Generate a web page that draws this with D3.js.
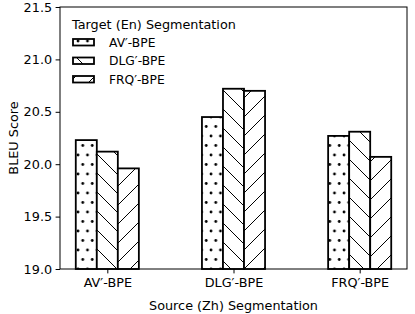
<!DOCTYPE html>
<html>
<head>
	<meta charset="utf-8" />
	<script src="https://cdnjs.cloudflare.com/ajax/libs/d3/7.8.5/d3.min.js"></script>
	<style>
		body { margin: 0; background: white; }
		text { font-family: 'DejaVu Sans', sans-serif; fill: black; }
		.tick text { font-size: 12.8px; }
	</style>
</head>
<body>
	<script>
		// data
		const categories = ["AV\u2032-BPE", "DLG\u2032-BPE", "FRQ\u2032-BPE"];
		const seriesNames = ["AV\u2032-BPE", "DLG\u2032-BPE", "FRQ\u2032-BPE"];
		const avScores = [20.23, 20.45, 20.27];
		const dlgScores = [20.12, 20.72, 20.31];
		const frqScores = [19.96, 20.70, 20.07];
		const yTicks = [19.0, 19.5, 20.0, 20.5, 21.0, 21.5];

		const w = 415, h = 314;
		const margin = {left: 60, right: 8, top: 7, bottom: 45};
		const barW = 1 / 6;

		const svg = d3.select("body").append("svg")
			.attr("width", w)
			.attr("height", h);

		// hatch patterns (matplotlib style '.', '\\', '/')
		const defs = svg.append("defs");
		const dots = defs.append("pattern")
			.attr("id", "hatch-dot")
			.attr("patternUnits", "userSpaceOnUse")
			.attr("width", 9.5).attr("height", 19);
		dots.append("rect").attr("width", 9.5).attr("height", 19).attr("fill", "white");
		dots.append("circle").attr("cx", 2).attr("cy", 3).attr("r", 1.4).attr("fill", "black");
		dots.append("circle").attr("cx", 6.75).attr("cy", 12.5).attr("r", 1.4).attr("fill", "black");

		const back = defs.append("pattern")
			.attr("id", "hatch-back")
			.attr("patternUnits", "userSpaceOnUse")
			.attr("width", 19).attr("height", 19);
		back.append("rect").attr("width", 19).attr("height", 19).attr("fill", "white");
		back.append("path")
			.attr("d", "M0,0L19,19M-2,17L2,21M17,-2L21,2")
			.attr("stroke", "black").attr("stroke-width", 1);

		const fwd = defs.append("pattern")
			.attr("id", "hatch-fwd")
			.attr("patternUnits", "userSpaceOnUse")
			.attr("width", 19).attr("height", 19);
		fwd.append("rect").attr("width", 19).attr("height", 19).attr("fill", "white");
		fwd.append("path")
			.attr("d", "M0,19L19,0M-2,2L2,-2M17,21L21,17")
			.attr("stroke", "black").attr("stroke-width", 1);

		const fills = ["url(#hatch-dot)", "url(#hatch-back)", "url(#hatch-fwd)"];
		const allSeries = [avScores, dlgScores, frqScores];

		const xScale = d3.scaleLinear()
			.domain([-0.375, 2.375])
			.range([margin.left, w - margin.right]);

		const yScale = d3.scaleLinear()
			.domain([19.0, 21.5])
			.range([h - margin.bottom, margin.top]);

		// bars
		allSeries.forEach((vals, si) => {
			svg.append("g")
				.selectAll("rect")
				.data(vals)
				.enter()
				.append("rect")
				.attr("x", (d, i) => xScale(i + (si - 1) * barW - barW / 2))
				.attr("width", (d, i) => xScale(barW) - xScale(0))
				.attr("y", d => yScale(d))
				.attr("height", d => yScale(19.0) - yScale(d))
				.attr("fill", fills[si])
				.attr("stroke", "black")
				.attr("stroke-width", 1.8);
		});

		// axes
		const xAxis = d3.axisBottom(xScale)
			.tickValues([0, 1, 2])
			.tickFormat(i => categories[i])
			.tickSizeInner(4.4).tickSizeOuter(0).tickPadding(4.4);
		const yAxis = d3.axisLeft(yScale)
			.tickValues(yTicks)
			.tickFormat(d3.format(".1f"))
			.tickSizeInner(4.4).tickSizeOuter(0).tickPadding(3.5);

		svg.append("g")
			.attr("transform", "translate(0," + (h - margin.bottom) + ")")
			.call(xAxis)
			.call(g => g.select(".domain").remove());
		svg.append("g")
			.attr("transform", "translate(" + margin.left + ",0)")
			.call(yAxis)
			.call(g => g.select(".domain").remove());

		svg.selectAll(".tick line").attr("stroke", "black").attr("stroke-width", 1);
		svg.selectAll(".tick text").attr("fill", "black").attr("font-family", "DejaVu Sans");

		// frame
		svg.append("rect")
			.attr("x", margin.left)
			.attr("y", margin.top)
			.attr("width", w - margin.left - margin.right)
			.attr("height", h - margin.top - margin.bottom)
			.attr("fill", "none")
			.attr("stroke", "black")
			.attr("stroke-width", 1);

		// axis labels
		svg.append("text")
			.attr("x", (margin.left + w - margin.right) / 2)
			.attr("y", 310)
			.attr("text-anchor", "middle")
			.style("font-size", "12.8px")
			.text("Source (Zh) Segmentation");

		svg.append("text")
			.attr("transform", "translate(18," + ((margin.top + h - margin.bottom) / 2) + ") rotate(-90)")
			.attr("text-anchor", "middle")
			.style("font-size", "12.8px")
			.text("BLEU Score");

		// legend
		const legend = svg.append("g");
		legend.append("text")
			.attr("x", 72)
			.attr("y", 29)
			.style("font-size", "12.8px")
			.text("Target (En) Segmentation");

		seriesNames.forEach((name, i) => {
			const by = 46.5 + i * 18.5;
			legend.append("rect")
				.attr("x", 73).attr("y", by - 7.5)
				.attr("width", 21).attr("height", 6.5)
				.attr("fill", fills[i])
				.attr("stroke", "black")
				.attr("stroke-width", 1.8);
			legend.append("text")
				.attr("x", 109).attr("y", by)
				.style("font-size", "12.3px")
				.text(name);
		});
	</script>
</body>
</html>
